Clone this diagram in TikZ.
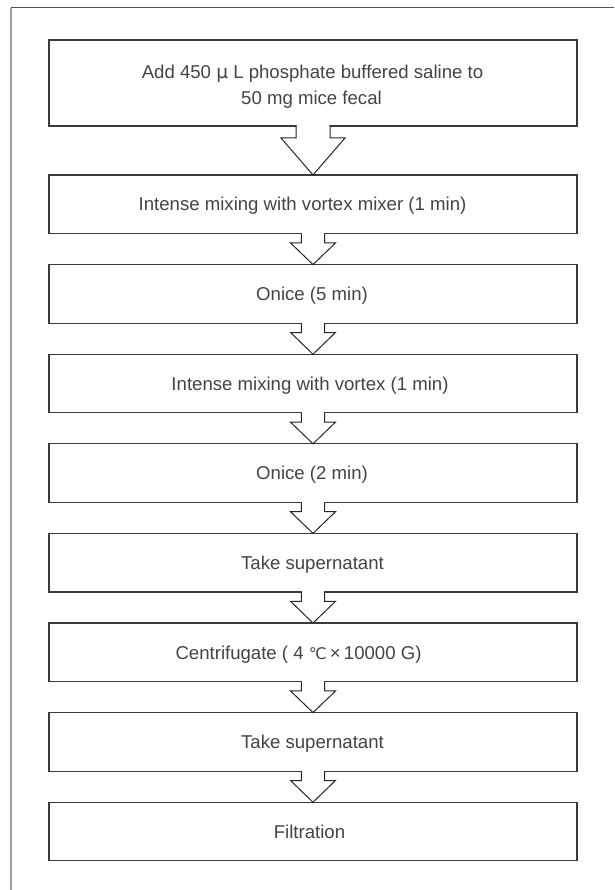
\documentclass[tikz,border=0pt]{standalone}
\usepackage{fontspec}
\setmainfont{Liberation Sans}
\newfontfamily\symfont{DejaVu Sans}
\usetikzlibrary{calc}

\definecolor{boxline}{HTML}{3A3A3A}
\definecolor{textgray}{HTML}{444444}

\tikzset{
  stepbox/.style={draw=boxline, line width=1.3pt, rectangle, minimum width=528pt,
    minimum height=58.6pt, inner sep=0pt, outer sep=0pt},
  lbl/.style={anchor=base, inner sep=0pt, text=textgray,
    font=\fontsize{18.6pt}{22pt}\selectfont},
  flowarrow/.style={draw=black!85, line width=1pt, fill=white, line join=miter},
}

% hollow block arrow from the bottom of #1 to the top of #2
% #3 stem half width, #4 head half width, #5 stem length
\newcommand{\blockarrow}[5]{%
  \fill[white] let \p1=(#1.south) in
    ($(\x1-#3+0.6pt,\y1+1.2pt)$) rectangle ($(\x1+#3-0.6pt,\y1-#5)$);
  \path[flowarrow] let \p1=(#1.south), \p2=(#2.north) in
    (\x1-#3,\y1) -- (\x1-#3,\y1-#5) -- (\x1-#4,\y1-#5) -- (\x2,\y2)
    -- (\x1+#4,\y1-#5) -- (\x1+#3,\y1-#5) -- (\x1+#3,\y1);
}

\begin{document}
\begin{tikzpicture}[x=1pt, y=1pt]
\useasboundingbox (0,0) rectangle (614,-890);
\fill[white] (0,0) rectangle (614,-890);

% page frame
\draw[black!68, line width=1pt] (10.5,-8) -- (614,-8);
\draw[black!38, line width=1.3pt] (11,-8) -- (11,-890);

% process steps
\node[stepbox, minimum height=86pt] (b1) at (313,-83) {};
\node[stepbox] (b2) at (313,-204.3) {};
\node[stepbox] (b3) at (313,-293.9) {};
\node[stepbox] (b4) at (313,-383.5) {};
\node[stepbox] (b5) at (313,-473.1) {};
\node[stepbox] (b6) at (313,-562.7) {};
\node[stepbox] (b7) at (313,-652.3) {};
\node[stepbox] (b8) at (313,-741.9) {};
\node[stepbox] (b9) at (313,-831.5) {};

% step texts
\node[lbl] (t1a) at (312.5,-78.3) {Add 450 {\symfont μ} L phosphate buffered saline to};
\node[lbl] (t1b) at (311.5,-104.3) {50 mg mice fecal};
\node[lbl] (t2) at (302.5,-211.0) {Intense mixing with vortex mixer (1 min)};
\node[lbl] (t3) at (312,-300.6) {Onice (5 min)};
\node[lbl] (t4) at (310,-390.2) {Intense mixing with vortex (1 min)};
\node[lbl] (t5) at (312,-479.8) {Onice (2 min)};
\node[lbl] (t6) at (312.5,-569.4) {Take supernatant};
\node[lbl] (t7) at (298.5,-659.0) {Centrifugate ( 4 {\symfont\fontsize{16pt}{18pt}\selectfont ℃}\,×\,10000 G)};
\node[lbl] (t8) at (312.5,-748.6) {Take supernatant};
\node[lbl] (t9) at (309.5,-838.2) {Filtration};

% connecting arrows
\blockarrow{b1}{b2}{17pt}{32pt}{12pt}
\blockarrow{b2}{b3}{11.6pt}{22.5pt}{9.3pt}
\blockarrow{b3}{b4}{11.6pt}{22.5pt}{9.3pt}
\blockarrow{b4}{b5}{11.6pt}{22.5pt}{9.3pt}
\blockarrow{b5}{b6}{11.6pt}{22.5pt}{9.3pt}
\blockarrow{b6}{b7}{11.6pt}{22.5pt}{9.3pt}
\blockarrow{b7}{b8}{11.6pt}{22.5pt}{9.3pt}
\blockarrow{b8}{b9}{11.6pt}{22.5pt}{9.3pt}
\end{tikzpicture}
\end{document}
